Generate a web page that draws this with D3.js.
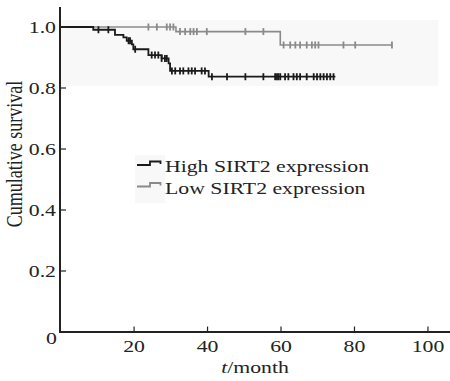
<!DOCTYPE html>
<html>
<head>
<meta charset="utf-8">
<script src="https://cdn.jsdelivr.net/npm/d3@7"></script>
<style>
  body { margin: 0; background: #fff; }
  text { font-family: "Liberation Serif", "Times New Roman", serif; fill: #222; }
</style>
</head>
<body>
<div id="vis"></div>
<script>
// Kaplan-Meier data
var highStepTimes = [0, 8.9, 14.8, 17.1, 18.0, 19.4, 19.8, 23.9, 27.5, 29.4, 29.8, 40.3];
var highStepSurv  = [1.0, 0.991, 0.974, 0.966, 0.955, 0.943, 0.927, 0.908, 0.897, 0.881, 0.856, 0.837];
var highEnd = 74.8;
var highCensor = [10.3, 13.0, 18.5, 18.9, 20.3, 24.8, 25.7, 26.6, 27.5, 28.4, 28.9,
  30.3, 31.2, 32.5, 33.4, 34.8, 35.7, 36.6, 38.4, 39.3, 41.2, 45.3, 50.3, 55.2,
  58.4, 58.9, 59.3, 59.8, 61.1, 62.0, 63.4, 64.3, 65.2, 67.0, 68.9, 69.8, 70.7,
  71.6, 72.5, 73.4, 74.3];

var lowStepTimes = [0, 31.4, 59.8];
var lowStepSurv  = [1.0, 0.985, 0.941];
var lowEnd = 90.2;
var lowCensor = [23.9, 26.2, 28.9, 29.8, 30.7, 32.5, 33.9, 35.3, 36.2, 37.1, 39.8,
  50.3, 55.2, 60.7, 62.5, 63.9, 65.2, 67.0, 68.4, 69.3, 70.2, 77.0, 80.2, 90.2];

var xTicks = [20, 40, 60, 80, 100];
var yTicks = [0.2, 0.4, 0.6, 0.8, 1.0];
var legendLabels = ['High SIRT2 expression', 'Low SIRT2 expression'];

var width = 450;
var height = 381;
var stretch = 1.28; // the source figure is horizontally stretched

var x = d3.scaleLinear().domain([0, 106]).range([60.6, 450]);
var y = d3.scaleLinear().domain([0, 1]).range([332, 27]);

var svg = d3.select('#vis').append('svg')
  .attr('width', width)
  .attr('height', height);

// light plot background band
svg.append('rect')
  .attr('x', x(0) - 0.6)
  .attr('y', y(1.023))
  .attr('width', x(103) - x(0))
  .attr('height', y(0.807) - y(1.023))
  .attr('fill', '#f8f8f8');

function stepPoints(times, surv, end) {
  var pts = times.map(function (t, i) { return [t, surv[i]]; });
  pts.push([end, surv[surv.length - 1]]);
  return pts;
}

function survAt(times, surv, t) {
  var s = surv[0];
  for (var i = 0; i < times.length; i++) {
    if (times[i] <= t) s = surv[i];
  }
  return s;
}

var line = d3.line()
  .x(function (d) { return x(d[0]); })
  .y(function (d) { return y(d[1]); })
  .curve(d3.curveStepAfter);

var groups = [
  { times: lowStepTimes, surv: lowStepSurv, end: lowEnd, censor: lowCensor, color: '#8a8a8a', w: 1.6 },
  { times: highStepTimes, surv: highStepSurv, end: highEnd, censor: highCensor, color: '#1a1a1a', w: 1.8 }
];

groups.forEach(function (g) {
  svg.append('path')
    .attr('d', line(stepPoints(g.times, g.surv, g.end)))
    .attr('fill', 'none')
    .attr('stroke', g.color)
    .attr('stroke-width', g.w);

  svg.selectAll(null)
    .data(g.censor)
    .enter().append('line')
    .attr('x1', function (d) { return x(d); })
    .attr('x2', function (d) { return x(d); })
    .attr('y1', function (d) { return y(survAt(g.times, g.surv, d)) - 3.5; })
    .attr('y2', function (d) { return y(survAt(g.times, g.surv, d)) + 3.5; })
    .attr('stroke', g.color)
    .attr('stroke-width', 1.8);
});

// axes
svg.append('line')
  .attr('x1', 60).attr('x2', 60)
  .attr('y1', 7).attr('y2', 333)
  .attr('stroke', '#222').attr('stroke-width', 2);
svg.append('line')
  .attr('x1', 59).attr('x2', 450)
  .attr('y1', 332).attr('y2', 332)
  .attr('stroke', '#222').attr('stroke-width', 2);

svg.selectAll('.xtick')
  .data(xTicks)
  .enter().append('line')
  .attr('class', 'xtick')
  .attr('x1', function (d) { return x(d); })
  .attr('x2', function (d) { return x(d); })
  .attr('y1', 332).attr('y2', 326.5)
  .attr('stroke', '#222').attr('stroke-width', 1.2);

svg.selectAll('.xlabel')
  .data(xTicks)
  .enter().append('text')
  .attr('class', 'xlabel')
  .attr('transform', function (d) { return 'translate(' + x(d) + ',352) scale(' + stretch + ',1)'; })
  .attr('text-anchor', 'middle')
  .style('font-size', '17px')
  .text(function (d) { return d; });

svg.selectAll('.ytick')
  .data(yTicks)
  .enter().append('line')
  .attr('class', 'ytick')
  .attr('x1', 60).attr('x2', 66)
  .attr('y1', function (d) { return y(d); })
  .attr('y2', function (d) { return y(d); })
  .attr('stroke', '#222').attr('stroke-width', 1.2);

svg.selectAll('.ylabel')
  .data(yTicks)
  .enter().append('text')
  .attr('class', 'ylabel')
  .attr('transform', function (d) { return 'translate(56,' + (y(d) + 6) + ') scale(' + stretch + ',1)'; })
  .attr('text-anchor', 'end')
  .style('font-size', '17px')
  .text(function (d) { return d.toFixed(1); });

// shared origin label
svg.append('text')
  .attr('transform', 'translate(57,344) scale(' + stretch + ',1)')
  .attr('text-anchor', 'end')
  .style('font-size', '17px')
  .text('0');

// axis titles
svg.append('text')
  .attr('transform', 'translate(22,154) scale(' + stretch + ',1) rotate(-90)')
  .attr('text-anchor', 'middle')
  .style('font-size', '18px')
  .text('Cumulative survival');

var xt = svg.append('text')
  .attr('transform', 'translate(255,373) scale(' + stretch + ',1)')
  .attr('text-anchor', 'middle')
  .style('font-size', '17px');
xt.append('tspan').style('font-style', 'italic').text('t');
xt.append('tspan').text('/month');

// legend
svg.append('rect')
  .attr('x', 135).attr('y', 155)
  .attr('width', 30).attr('height', 48)
  .attr('fill', '#f8f8f8');

var legendColors = ['#1a1a1a', '#8a8a8a'];
legendLabels.forEach(function (lab, i) {
  var ly = 165 + i * 21.5;
  svg.append('path')
    .attr('d', 'M137,' + ly + 'H150V' + (ly - 3.5) + 'H160.5V' + (ly - 1))
    .attr('fill', 'none')
    .attr('stroke', legendColors[i])
    .attr('stroke-width', 1.8);
  svg.append('text')
    .attr('transform', 'translate(165,' + (ly + 7) + ') scale(' + stretch + ',1)')
    .style('font-size', '17px')
    .text(lab);
});
</script>
</body>
</html>
